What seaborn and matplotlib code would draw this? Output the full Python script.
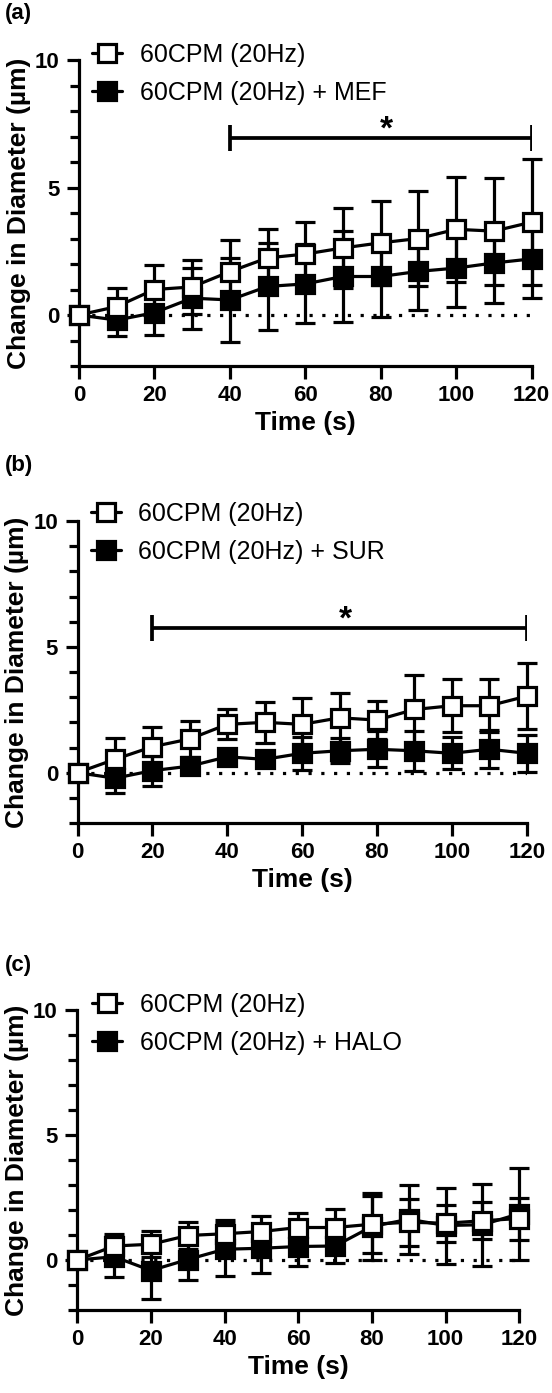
import numpy as np
import pandas as pd
import matplotlib
matplotlib.use("Agg")
import matplotlib.pyplot as plt
from matplotlib.lines import Line2D
from matplotlib.ticker import MultipleLocator
import seaborn as sns

# time points (s)
time_s = [0, 10, 20, 30, 40, 50, 60, 70, 80, 90, 100, 110, 120]

# panel (a): 60CPM vs 60CPM + MEF  (mean, SD)
ctrl_a = [0, 0.33, 1.0, 1.1, 1.7, 2.24, 2.39, 2.63, 2.83, 3.0, 3.36, 3.29, 3.64]
ctrl_a_sd = [0, 0.72, 0.97, 1.07, 1.26, 1.14, 1.25, 1.58, 1.64, 1.87, 2.06, 2.1, 2.48]
mef_a = [0, -0.2, 0.09, 0.66, 0.59, 1.12, 1.22, 1.51, 1.51, 1.71, 1.84, 2.04, 2.2]
mef_a_sd = [0, 0.63, 0.88, 1.2, 1.64, 1.69, 1.55, 1.78, 1.6, 1.51, 1.51, 1.55, 1.54]

# panel (b): 60CPM vs 60CPM + SUR
ctrl_b = [0, 0.53, 1.03, 1.34, 1.92, 2.0, 1.92, 2.18, 2.09, 2.51, 2.66, 2.66, 3.04]
ctrl_b_sd = [0, 0.86, 0.77, 0.72, 0.6, 0.82, 1.03, 1.0, 0.77, 1.37, 1.06, 1.06, 1.3]
sur_b = [0, -0.22, 0.08, 0.26, 0.63, 0.53, 0.77, 0.87, 0.93, 0.87, 0.77, 0.93, 0.77]
sur_b_sd = [0, 0.6, 0.6, 0.3, 0.25, 0.25, 0.66, 0.5, 0.72, 0.8, 0.64, 0.76, 0.74]

# panel (c): 60CPM vs 60CPM + HALO
ctrl_c = [0, 0.56, 0.63, 0.98, 1.05, 1.14, 1.3, 1.3, 1.43, 1.51, 1.47, 1.57, 1.66]
ctrl_c_sd = [0, 0.5, 0.52, 0.55, 0.56, 0.63, 0.6, 0.76, 1.15, 0.93, 0.74, 0.74, 0.84]
halo_c = [0, 0.13, -0.42, 0.02, 0.43, 0.47, 0.54, 0.56, 1.34, 1.63, 1.38, 1.41, 1.85]
halo_c_sd = [0, 0.8, 1.12, 0.82, 1.07, 0.98, 0.78, 0.66, 1.34, 1.39, 1.52, 1.63, 1.85]

ctrl_label = "60CPM (20Hz)"
drug_labels = ["60CPM (20Hz) + MEF", "60CPM (20Hz) + SUR", "60CPM (20Hz) + HALO"]
panel_tags = ["(a)", "(b)", "(c)"]
# significance bars: (start, end, height)
sig_bars = [(40, 120, 6.95), (20, 120, 5.75), None]

sns.set_theme(style="ticks")
plt.rcParams['font.family'] = ['Liberation Sans', 'DejaVu Sans']
plt.rcParams.update({'text.color': 'black', 'axes.labelcolor': 'black',
                     'xtick.color': 'black', 'ytick.color': 'black',
                     'axes.edgecolor': 'black'})

W, H = 552, 1393
fig = plt.figure(figsize=(W / 100, H / 100), dpi=100)


def px_axes(left, right, top, bottom):
    return fig.add_axes([left / W, 1 - bottom / H, (right - left) / W, (bottom - top) / H])


LW = 2.3
boxes = [(79, 531.5, 60, 366), (77.5, 526.7, 521, 823), (77.3, 519.3, 1010, 1310)]
legend_pos = [(92, 43), (91, 502), (92, 993)]
tag_y = [13, 466, 965]
series = [(ctrl_a, ctrl_a_sd, mef_a, mef_a_sd),
          (ctrl_b, ctrl_b_sd, sur_b, sur_b_sd),
          (ctrl_c, ctrl_c_sd, halo_c, halo_c_sd)]

for i, (ctrl, ctrl_sd, drug, drug_sd) in enumerate(series):
    ax = px_axes(*boxes[i])
    ax.axhline(0, color='black', lw=LW, linestyle=(0, (1, 3)), zorder=1)

    for mean, sd, face, z in [(drug, drug_sd, 'black', 3), (ctrl, ctrl_sd, 'white', 4)]:
        eb = ax.errorbar(time_s[1:], mean[1:], yerr=sd[1:], fmt='none', ecolor='black',
                         elinewidth=LW, capsize=7, capthick=LW, zorder=2)
        for art in list(eb.lines[1]) + list(eb.lines[2]):
            art.set_clip_on(False)
        df = pd.DataFrame({'time': time_s, 'change': mean})
        sns.lineplot(data=df, x='time', y='change', ax=ax, color='black', linewidth=LW,
                     marker='s', markersize=13.5, markerfacecolor=face,
                     markeredgecolor='black', markeredgewidth=LW, zorder=z, clip_on=False)

    if sig_bars[i] is not None:
        x0, x1, y = sig_bars[i]
        ax.hlines(y, x0, x1, color='black', lw=LW + 0.4)
        ax.vlines([x0, x1], y - 0.5, y + 0.5, color='black', lw=LW + 0.4)
        ax.text((x0 + x1) / 2 + 1.5, y + 0.3, '*', ha='center', va='center',
                fontsize=24, fontweight='bold')

    ax.set_xlim(0, 120)
    ax.set_ylim(-2, 10)
    ax.set_xticks(range(0, 121, 20))
    ax.set_yticks([0, 5, 10])
    ax.yaxis.set_minor_locator(MultipleLocator(1))
    sns.despine(ax=ax)
    for sp in ax.spines.values():
        sp.set_linewidth(LW)
        sp.set_color('black')
    ax.tick_params(which='major', length=9, width=LW, labelsize=16, color='black',
                   labelcolor='black', pad=5)
    ax.tick_params(axis='y', which='minor', length=6.5, width=LW, color='black')
    for lab in ax.get_xticklabels() + ax.get_yticklabels():
        lab.set_fontweight('bold')
    ax.set_xlabel('Time (s)', fontsize=19, fontweight='bold', labelpad=3)
    ax.set_ylabel('Change in Diameter (µm)', fontsize=19, fontweight='bold', labelpad=3)

    handles = [Line2D([], [], color='black', lw=LW, marker='s', markersize=13.5,
                      markerfacecolor=f, markeredgecolor='black', markeredgewidth=LW)
               for f in ['white', 'black']]
    lx, ly = legend_pos[i]
    ax.legend(handles, [ctrl_label, drug_labels[i]], loc='upper left',
              bbox_to_anchor=(lx / W, 1 - ly / H), bbox_transform=fig.transFigure,
              frameon=False, fontsize=18, handlelength=1.2, handletextpad=0.7,
              labelspacing=0.55, borderpad=0, borderaxespad=0)

    fig.text(5 / W, 1 - tag_y[i] / H, panel_tags[i], ha='left', va='center',
             fontsize=16, fontweight='bold')

fig.savefig('out.png', dpi=100)
